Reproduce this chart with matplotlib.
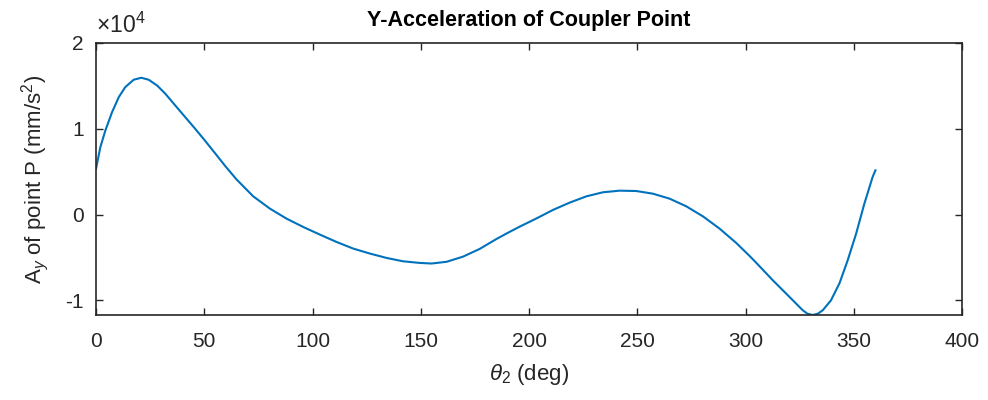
import matplotlib
matplotlib.use("Agg")
import matplotlib.pyplot as plt
from matplotlib.ticker import FuncFormatter

# crank angle theta_2 (deg) and y-acceleration of coupler point P (mm/s^2)
theta2 = [0, 2.0, 4.3, 7.4, 10.5, 13.5, 17.4, 20.9, 24.3, 28.2, 32.0,
          36.6, 41.2, 45.8, 50.4, 55.0, 59.7, 64.9, 72.6, 80.3, 88.0,
          95.7, 103.4, 111.1, 118.8, 126.5, 134.2, 141.8, 149.5, 155.0,
          161.9, 169.5, 177.2, 184.9, 190.0, 195.7, 203.4, 211.1, 218.8,
          226.5, 234.1, 241.8, 249.5, 257.2, 264.9, 272.6, 280.3, 288.0,
          295.7, 301.8, 304.9, 312.6, 320.3, 326.4, 328.6, 331.0, 333.4,
          335.7, 339.5, 343.4, 347.2, 351.1, 354.9, 358.7, 360.0]
ay = [5350, 7870, 9800, 11940, 13690, 14860, 15720, 15950, 15720, 15050,
      14090, 12720, 11360, 10000, 8600, 7150, 5650, 4100, 2130, 700, -470,
      -1440, -2330, -3190, -3960, -4540, -5050, -5440, -5630, -5700,
      -5500, -4900, -4000, -2850, -2150, -1400, -450, 550, 1400,
      2130, 2600, 2790, 2750, 2440, 1860, 970, -200, -1630,
      -3300, -4800, -5600, -7650, -9590, -11140, -11550, -11700, -11550,
      -11140, -9980, -8000, -5320, -2210, 1280, 4380, 5160]

x_ticks = [0, 50, 100, 150, 200, 250, 300, 350, 400]
y_ticks = [-10000, 0, 10000, 20000]

INK = "#262626"
LINE = "#0072BD"

plt.rcParams.update({
    "font.family": ["Liberation Sans", "DejaVu Sans"],
    "mathtext.fontset": "custom",
    "mathtext.rm": "Liberation Sans",
    "mathtext.it": "Liberation Sans:italic",
    "mathtext.bf": "Liberation Sans:bold",
})

fig = plt.figure(figsize=(9.88, 4.0), dpi=100)
ax = fig.add_axes([0.0972, 0.2125, 0.8765, 0.68])

ax.plot(theta2, ay, color=LINE, linewidth=1.5)

ax.set_xlim(0, 400)
ax.set_ylim(-11700, 20000)
ax.set_xticks(x_ticks)
ax.set_yticks(y_ticks)
ax.yaxis.set_major_formatter(FuncFormatter(lambda v, p: f"{v/1e4:g}"))

ax.tick_params(direction="in", length=5, width=1.0, colors=INK,
               labelsize=15, top=True, right=True)
ax.tick_params(axis="x", pad=12)
ax.tick_params(axis="y", pad=9)
for s in ax.spines.values():
    s.set_color(INK)
    s.set_linewidth(1.2)

ax.text(0.0, 1.02, r"$\times 10^4$", transform=ax.transAxes,
        fontsize=16.5, color=INK, ha="left", va="bottom")

ax.set_title("Y-Acceleration of Coupler Point", fontsize=15.5,
             fontweight="bold", color="black", pad=12)
ax.set_xlabel(r"$\theta_2$ (deg)", fontsize=16, color=INK, labelpad=8)
ax.set_ylabel(r"A$_y$ of point P (mm/s$^2$)", fontsize=16, color=INK,
              labelpad=10)

fig.savefig("out.png", dpi=100)
